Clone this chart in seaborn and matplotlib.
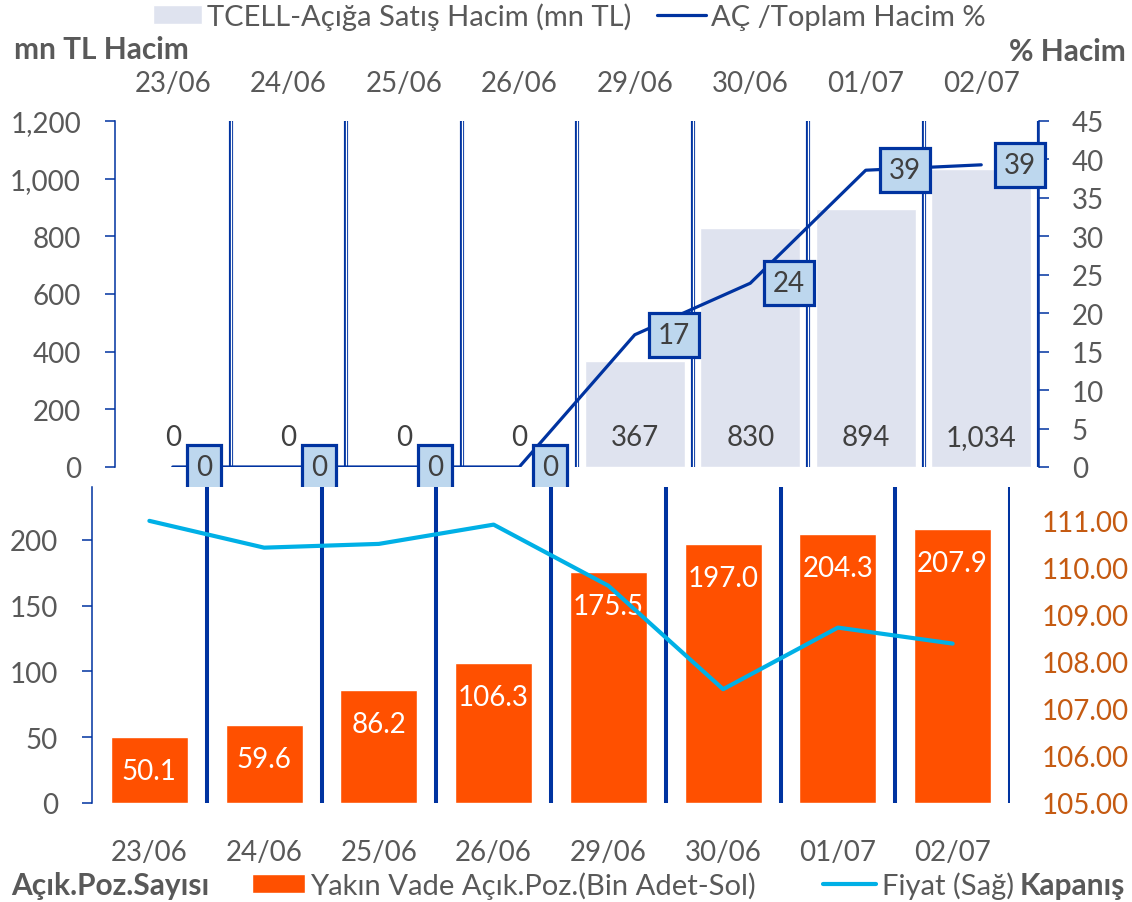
import numpy as np
import matplotlib
matplotlib.use("Agg")
import matplotlib.pyplot as plt
import seaborn as sns
from matplotlib.ticker import FuncFormatter, MultipleLocator

# --- data --------------------------------------------------------------------
dates = ["23/06", "24/06", "25/06", "26/06", "29/06", "30/06", "01/07", "02/07"]
short_volume = [0, 0, 0, 0, 367, 830, 894, 1034]              # mn TL
short_ratio = [0, 0, 0, 0, 17.2, 23.9, 38.6, 39.3]            # AÇ / toplam hacim %
open_pos = [50.1, 59.6, 86.2, 106.3, 175.5, 197.0, 204.3, 207.9]  # bin adet
close_price = [111.00, 110.43, 110.51, 110.92, 109.62, 107.42, 108.73, 108.39]

NAVY = "#0033A0"
LAVENDER = "#DFE3EF"
BOX = "#BDD7EE"
ORANGE = "#FF5000"
CYAN = "#00B0E6"
BROWN = "#C55A11"
GREY = "#595959"
DARK = "#404040"

sns.set_style("white")
plt.rcParams["font.family"] = ["Lato", "DejaVu Sans"]
plt.rcParams["font.size"] = 20

W, H = 1132, 903
fig = plt.figure(figsize=(W / 100, H / 100), dpi=100)

# --- top panel: short sale volume + ratio ------------------------------------
ax_top = fig.add_axes([115 / W, 1 - 468 / H, 924 / W, 346 / H])
sns.barplot(x=dates, y=short_volume, ax=ax_top, color=LAVENDER, saturation=1,
            width=0.87, label="TCELL-Açığa Satış Hacim (mn TL)", zorder=1)
if ax_top.get_legend():
    ax_top.get_legend().remove()
for i, v in enumerate(short_volume):
    ax_top.annotate(f"{v:,.0f}", xy=(i, 0), xytext=(0, 30), textcoords="offset pixels",
                    ha="center", va="center", color=DARK)
for i in range(len(dates)):
    ax_top.axvline(i + 0.5, color=NAVY, lw=3.0, zorder=3)
    ax_top.axvline(i + 0.5, color="white", lw=0.9, zorder=3.1)

ax_top.set_xlim(-0.5, len(dates) - 0.5)
ax_top.set_ylim(0, 1200)
ax_top.yaxis.set_major_locator(MultipleLocator(200))
ax_top.yaxis.set_major_formatter(FuncFormatter(lambda v, p: f"{v:,.0f}"))
ax_top.set_xlabel("")
ax_top.set_ylabel("")
ax_top.xaxis.tick_top()
ax_top.tick_params(axis="x", length=0, pad=18, labelcolor=GREY)
ax_top.tick_params(axis="y", left=True, direction="out", length=7.5, width=1.1,
                   color=NAVY, pad=17, labelcolor=GREY)
for s in ["top", "bottom", "right"]:
    ax_top.spines[s].set_visible(False)
ax_top.spines["left"].set_color(NAVY)
ax_top.spines["left"].set_linewidth(1.1)

ax_top2 = ax_top.twinx()
sns.lineplot(x=np.arange(len(dates)), y=short_ratio, ax=ax_top2, color=NAVY, lw=2.3,
             label="AÇ /Toplam Hacim %", legend=False)
for i, v in enumerate(short_ratio):
    ax_top2.annotate(f"{v:.0f}", xy=(i, v), xytext=(23, 0), textcoords="offset pixels",
                     ha="left", va="center", color=DARK,
                     bbox=dict(boxstyle="square,pad=0.32", fc=BOX, ec=NAVY, lw=2.3))
ax_top2.set_ylim(0, 45)
ax_top2.yaxis.set_major_locator(MultipleLocator(5))
ax_top2.set_ylabel("")
ax_top2.tick_params(axis="y", right=True, direction="out", length=7.5, width=1.1,
                    color=NAVY, pad=16, labelcolor=GREY)
for s in ["top", "bottom", "left"]:
    ax_top2.spines[s].set_visible(False)
ax_top2.spines["right"].set_color(NAVY)
ax_top2.spines["right"].set_linewidth(1.1)

# --- bottom panel: open positions + close price -------------------------------
ax_bot = fig.add_axes([92 / W, 1 - 804 / H, 918 / W, 316 / H])
sns.barplot(x=dates, y=open_pos, ax=ax_bot, color=ORANGE, saturation=1, width=0.67,
            label="Yakın Vade Açık.Poz.(Bin Adet-Sol)")
if ax_bot.get_legend():
    ax_bot.get_legend().remove()
for i, v in enumerate(open_pos):
    ax_bot.annotate(f"{v:.1f}", xy=(i, v), xytext=(0, -34), textcoords="offset pixels",
                    ha="center", va="center", color="white")
for i in range(len(dates)):
    ax_bot.axvline(i + 0.5, color=NAVY, lw=2.9, zorder=3)

ax_bot.set_xlim(-0.5, len(dates) - 0.5)
ax_bot.set_ylim(0, 240)
ax_bot.yaxis.set_major_locator(MultipleLocator(50))
ax_bot.set_xlabel("")
ax_bot.set_ylabel("")
ax_bot.tick_params(axis="x", length=0, pad=26, labelcolor=GREY)
ax_bot.tick_params(axis="y", left=True, direction="out", length=7.5, width=1.1,
                   color=NAVY, pad=17, labelcolor=GREY)
for s in ["top", "bottom", "right"]:
    ax_bot.spines[s].set_visible(False)
ax_bot.spines["left"].set_color(NAVY)
ax_bot.spines["left"].set_linewidth(1.1)

ax_bot2 = ax_bot.twinx()
sns.lineplot(x=np.arange(len(dates)), y=close_price, ax=ax_bot2, color=CYAN, lw=3,
             label="Fiyat (Sağ)", legend=False)
ax_bot2.set_ylim(105, 111.72)
ax_bot2.yaxis.set_major_locator(MultipleLocator(1))
ax_bot2.yaxis.set_major_formatter(FuncFormatter(lambda v, p: f"{v:.2f}"))
ax_bot2.set_ylabel("")
ax_bot2.tick_params(axis="y", right=True, length=0, pad=23, labelcolor=BROWN)
for s in ax_bot2.spines.values():
    s.set_visible(False)

ax_top.set_zorder(1)
ax_top2.set_zorder(1.5)
ax_bot.set_zorder(2)
ax_bot2.set_zorder(2.5)

# --- legends and axis titles ----------------------------------------------------
h1, l1 = ax_top.get_legend_handles_labels()
h2, l2 = ax_top2.get_legend_handles_labels()
fig.legend(h1 + h2, l1 + l2, loc="center left", bbox_to_anchor=(153 / W, 1 - 17 / H),
           ncol=2, frameon=False, borderpad=0, borderaxespad=0, handlelength=1.68,
           handleheight=0.65, handletextpad=0.18, columnspacing=0.86,
           labelcolor=GREY, fontsize=21)

h3, l3 = ax_bot.get_legend_handles_labels()
h4, l4 = ax_bot2.get_legend_handles_labels()
leg_bot = fig.legend(h3 + h4, l3 + l4, loc="center left",
                     bbox_to_anchor=(252 / W, 1 - 886 / H), ncol=2, frameon=False,
                     borderpad=0, borderaxespad=0, handlelength=1.8, handleheight=0.65,
                     handletextpad=0.2, columnspacing=2.3, labelcolor=GREY, fontsize=21)

fig.text(14 / W, 1 - 50 / H, "mn TL Hacim", ha="left", va="center", fontsize=21.5,
         fontweight="bold", color=GREY)
fig.text(1126 / W, 1 - 52 / H, "% Hacim", ha="right", va="center", fontsize=21.5,
         fontweight="bold", color=GREY)
fig.text(11 / W, 1 - 886 / H, "Açık.Poz.Sayısı", ha="left", va="center", fontsize=21.5,
         fontweight="bold", color=GREY)

# "Kapanış" follows the last legend entry
fig.canvas.draw()
x_end = leg_bot.get_texts()[-1].get_window_extent().x1
fig.text((x_end + 6) / W, 1 - 886 / H, "Kapanış", ha="left", va="center", fontsize=21.5,
         fontweight="bold", color=GREY)

fig.savefig("out.png", dpi=100)
